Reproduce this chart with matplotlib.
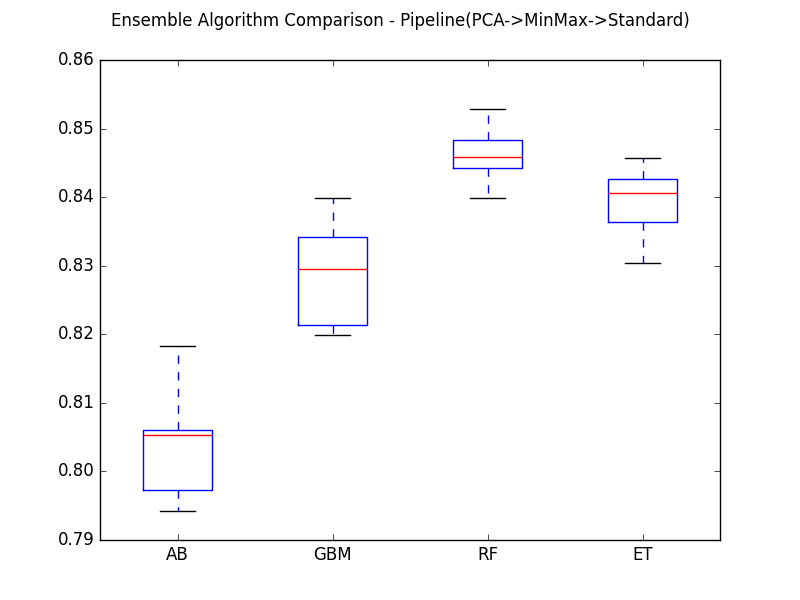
import matplotlib
matplotlib.use("Agg")
import matplotlib.pyplot as plt

plt.style.use('classic')
names = ['AB', 'GBM', 'RF', 'ET']
whislo = [0.7942, 0.8199, 0.8399, 0.8304]
q1 = [0.7973, 0.8214, 0.8443, 0.8364]
med = [0.8053, 0.8295, 0.8459, 0.8406]
q3 = [0.8060, 0.8342, 0.8483, 0.8427]
whishi = [0.8183, 0.8399, 0.8529, 0.8457]

stats = [dict(label=n, whislo=a, q1=b, med=c, q3=d, whishi=e, fliers=[])
         for n, a, b, c, d, e in zip(names, whislo, q1, med, q3, whishi)]

fig = plt.figure(figsize=(8, 6), dpi=100)
fig.suptitle('Ensemble Algorithm Comparison - Pipeline(PCA->MinMax->Standard)')
ax = fig.add_subplot(111)
ax.bxp(stats)
ax.set_ylim(0.79, 0.86)
fig.savefig('out.png', dpi=100)
